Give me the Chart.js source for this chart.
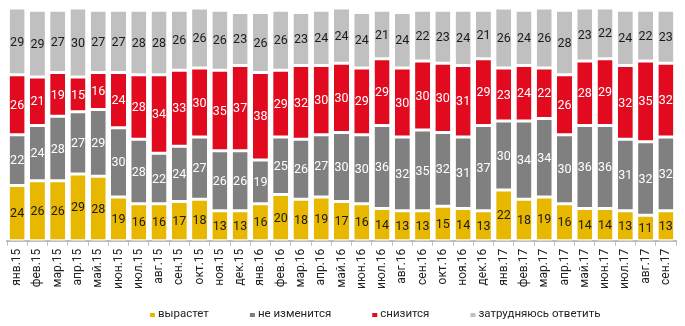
<!DOCTYPE html>
<html lang="ru">
<head>
<meta charset="utf-8">
<script src="https://cdn.jsdelivr.net/npm/chart.js@4.4.0/dist/chart.umd.min.js"></script>
<style>
  html, body { margin: 0; padding: 0; background: #fff; }
  #wrap { width: 685px; height: 326px; }
</style>
</head>
<body>
<div id="wrap"><canvas id="chart"></canvas></div>
<script>
// Data
const months = ['янв.15', 'фев.15', 'мар.15', 'апр.15', 'май.15', 'июн.15', 'июл.15', 'авг.15', 'сен.15', 'окт.15', 'ноя.15', 'дек.15',
    'янв.16', 'фев.16', 'мар.16', 'апр.16', 'май.16', 'июн.16', 'июл.16', 'авг.16', 'сен.16', 'окт.16', 'ноя.16', 'дек.16',
    'янв.17', 'фев.17', 'мар.17', 'апр.17', 'май.17', 'июн.17', 'июл.17', 'авг.17', 'сен.17'];
const grow    = [24, 26, 26, 29, 28, 19, 16, 16, 17, 18, 13, 13, 16, 20, 18, 19, 17, 16, 14, 13, 13, 15, 14, 13, 22, 18, 19, 16, 14, 14, 13, 11, 13];
const same    = [22, 24, 28, 27, 29, 30, 28, 22, 24, 27, 26, 26, 19, 25, 26, 27, 30, 30, 36, 32, 35, 32, 31, 37, 30, 34, 34, 30, 36, 36, 31, 32, 32];
const fall    = [26, 21, 19, 15, 16, 24, 28, 34, 33, 30, 35, 37, 38, 29, 32, 30, 30, 29, 29, 30, 30, 30, 31, 29, 23, 24, 22, 26, 28, 29, 32, 35, 32];
const unsure  = [29, 29, 27, 30, 27, 27, 28, 28, 26, 26, 26, 23, 26, 26, 23, 24, 24, 24, 21, 24, 22, 23, 24, 21, 26, 24, 26, 28, 23, 22, 24, 22, 23];
const seriesNames = ['вырастет', 'не изменится', 'снизится', 'затрудняюсь ответить'];

const colors = ['#E8B700', '#808080', '#E10A1E', '#C0C0C0'];
const textColors = ['#1a1a1a', '#ffffff', '#ffffff', '#1a1a1a'];

// draw the number in the middle of each segment
const valueLabels = {
    id: 'valueLabels',
    afterDatasetsDraw(chart) {
        const ctx = chart.ctx;
        chart.data.datasets.forEach((ds, i) => {
            const meta = chart.getDatasetMeta(i);
            if (meta.hidden) return;
            meta.data.forEach((bar, j) => {
                ctx.save();
                ctx.fillStyle = textColors[i];
                ctx.font = '12.5px Roboto, sans-serif';
                ctx.textAlign = 'center';
                ctx.textBaseline = 'middle';
                ctx.fillText(ds.data[j], bar.x, (bar.y + bar.base) / 2 + 1);
                ctx.restore();
            });
        });
    }
};

// legend drawn by hand: the original has wide gaps and tiny markers
const bottomLegend = {
    id: 'bottomLegend',
    afterDraw(chart) {
        const ctx = chart.ctx;
        let x = 150;
        const y = 314;
        ctx.save();
        ctx.font = '11.5px Roboto, sans-serif';
        ctx.textBaseline = 'middle';
        seriesNames.forEach((name, i) => {
            ctx.fillStyle = colors[i];
            ctx.fillRect(x, y - 1, 5, 4);
            ctx.fillStyle = '#222';
            ctx.fillText(name, x + 8, y);
            x += 8 + ctx.measureText(name).width + 41;
        });
        ctx.restore();
    }
};

const datasets = [grow, same, fall, unsure].map((data, i) => ({
    label: seriesNames[i],
    data: data,
    backgroundColor: colors[i],
    borderColor: '#ffffff',
    borderWidth: { top: 1.5, bottom: 1.5, left: 0, right: 0 },
    borderSkipped: false,
    barPercentage: 0.74,
    categoryPercentage: 1
}));

new Chart(document.getElementById('chart'), {
    type: 'bar',
    data: { labels: months, datasets: datasets },
    options: {
        responsive: true,
        maintainAspectRatio: false,
        animation: false,
        layout: { padding: { left: 7, right: 9, top: 8, bottom: 34 } },
        scales: {
            x: {
                stacked: true,
                grid: { drawOnChartArea: false, color: '#bdbdbd', tickLength: 5, lineWidth: 1 },
                border: { color: '#bdbdbd', width: 2 },
                ticks: {
                    minRotation: 90,
                    maxRotation: 90,
                    color: '#222',
                    padding: 3,
                    font: { family: 'Roboto, sans-serif', size: 12 }
                }
            },
            y: {
                stacked: true,
                display: false,
                min: 0,
                max: 101
            }
        },
        plugins: {
            tooltip: { enabled: false },
            legend: { display: false }
        }
    },
    plugins: [valueLabels, bottomLegend]
});
</script>
</body>
</html>
